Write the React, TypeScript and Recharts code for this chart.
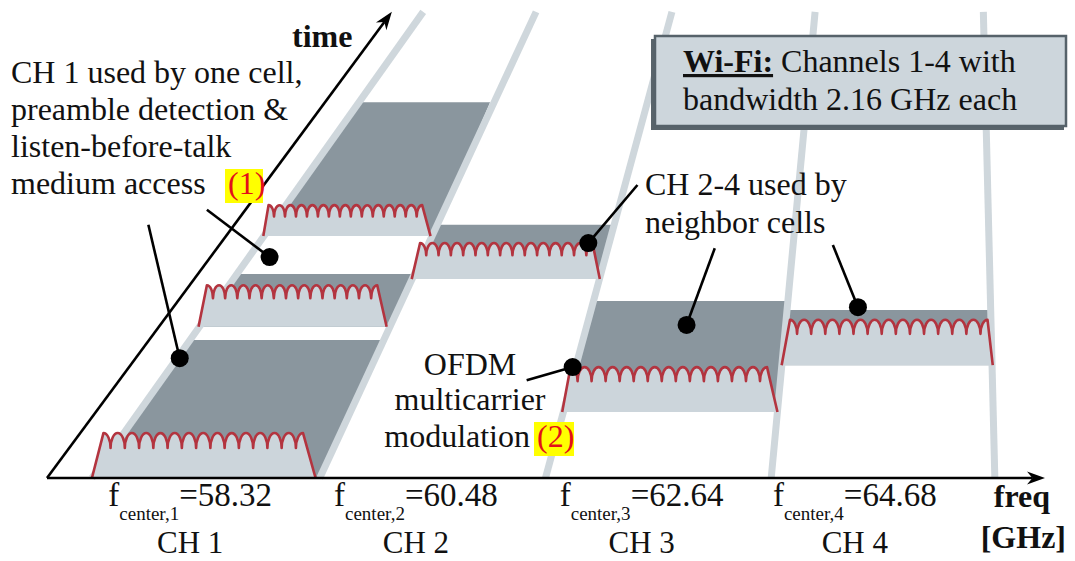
import { ComposedChart, Scatter, XAxis, YAxis } from 'recharts';

type Pt = { f: number; t: number };

// axes ranges (freq in GHz, time in arbitrary units)
const freqDomain: [number, number] = [56.95, 66.5];
const timeDomain: [number, number] = [0, 100];
const centerFreqs = [58.32, 60.48, 62.64, 64.68];
const channelNames = ['CH 1', 'CH 2', 'CH 3', 'CH 4'];

const freqAxis: Pt[] = [{ f: 56.95, t: 0 }, { f: 66.5, t: 0 }];
const timeAxis: Pt[] = [{ f: 56.95, t: 0 }, { f: 60.25, t: 99.6 }];

// channel lane borders
const laneLines: Pt[][] = [
  [{ f: 57.38, t: 0 }, { f: 60.55, t: 99.6 }],
  [{ f: 59.56, t: 0 }, { f: 61.63, t: 99.6 }],
  [{ f: 61.72, t: 0 }, { f: 62.93, t: 99.6 }],
  [{ f: 63.88, t: 0 }, { f: 64.3, t: 99.6 }],
  [{ f: 66.02, t: 0 }, { f: 65.91, t: 99.6 }],
];

// occupied channel time (dark areas): bottom-left, bottom-right, top-right, top-left
const busyAreas: Pt[][] = [
  [{ f: 57.38, t: 0 }, { f: 59.56, t: 0 }, { f: 60.18, t: 29.5 }, { f: 58.32, t: 29.5 }],
  [{ f: 58.41, t: 32.3 }, { f: 60.23, t: 32.3 }, { f: 60.47, t: 43.6 }, { f: 58.77, t: 43.6 }],
  [{ f: 59.03, t: 51.7 }, { f: 60.64, t: 51.7 }, { f: 61.19, t: 80.3 }, { f: 59.95, t: 80.3 }],
  [{ f: 60.45, t: 42.5 }, { f: 62.24, t: 42.5 }, { f: 62.38, t: 54.1 }, { f: 60.69, t: 54.1 }],
  [{ f: 61.9, t: 14.1 }, { f: 63.94, t: 14.1 }, { f: 64.04, t: 37.8 }, { f: 62.18, t: 37.8 }],
  [{ f: 63.98, t: 24.1 }, { f: 65.99, t: 24.1 }, { f: 65.98, t: 35.9 }, { f: 64.03, t: 35.9 }],
];

// OFDM preambles: edges in GHz, start/peak time, dip depth, number of subcarrier dips
const blockBottomLeft = [57.38, 58.4, 59.02, 60.44, 61.88, 63.98];
const blockTopLeft = [57.49, 58.48, 59.07, 60.52, 61.96, 64.06];
const blockTopRight = [59.4, 60.11, 60.54, 62.17, 63.84, 65.95];
const blockBottomRight = [59.52, 60.2, 60.62, 62.24, 63.94, 66.0];
const blockStart = [0, 32.3, 51.7, 42.5, 14.1, 24.1];
const blockPeak = [9.6, 41.2, 58.3, 50.2, 23.7, 33.8];
const blockDip = [3.2, 2.8, 2.4, 2.6, 3.0, 3.0];
const blockCarriers = [14, 14, 14, 14, 14, 14];

// annotation pointers: text end -> marker
const pointers: Pt[][] = [
  [{ f: 57.92, t: 54.1 }, { f: 58.22, t: 25.6 }],
  [{ f: 58.48, t: 57.3 }, { f: 59.08, t: 47.2 }],
  [{ f: 62.6, t: 62.6 }, { f: 62.13, t: 50.2 }],
  [{ f: 63.34, t: 49.1 }, { f: 63.07, t: 32.7 }],
  [{ f: 64.47, t: 49.8 }, { f: 64.71, t: 36.5 }],
  [{ f: 61.54, t: 20.9 }, { f: 61.98, t: 23.7 }],
];

const SERIF = "'Liberation Serif', 'DejaVu Serif', serif";
const DARK = '#8a969e';
const LIGHT = '#ccd5db';
const LANE = '#cfd7dc';
const RED = '#b3343f';

const noDot = () => null;

const polygon = (fill: string) => (p: any) => (
  <path d={'M' + p.points.map((q: any) => `${q.x},${q.y}`).join('L') + 'Z'} fill={fill} stroke="none" />
);

const thickLine = (stroke: string, width: number) => (p: any) => {
  const [a, b] = p.points;
  return <line x1={a.x} y1={a.y} x2={b.x} y2={b.y} stroke={stroke} strokeWidth={width} />;
};

const arrowLine = (p: any) => {
  const [a, b] = p.points;
  const len = Math.hypot(b.x - a.x, b.y - a.y);
  const ux = (b.x - a.x) / len;
  const uy = (b.y - a.y) / len;
  const L = 18;
  const W = 6.5;
  const bx = b.x - ux * L;
  const by = b.y - uy * L;
  const nx = b.x - ux * L * 0.7;
  const ny = b.y - uy * L * 0.7;
  return (
    <g>
      <line x1={a.x} y1={a.y} x2={nx} y2={ny} stroke="#000" strokeWidth={2.6} />
      <path
        d={`M${b.x},${b.y}L${bx - uy * W},${by + ux * W}L${nx},${ny}L${bx + uy * W},${by - ux * W}Z`}
        fill="#000"
      />
    </g>
  );
};

const pointerLine = (p: any) => {
  const [a, b] = p.points;
  return (
    <g>
      <line x1={a.x} y1={a.y} x2={b.x} y2={b.y} stroke="#000" strokeWidth={2.6} />
      <circle cx={b.x} cy={b.y} r={9} fill="#000" />
    </g>
  );
};

const ofdmBlock = (n: number) => (p: any) => {
  const [bl, tl, tr, br, dip] = p.points;
  const w = (tr.x - tl.x) / n;
  const h = dip.y - tl.y;
  const rx = w / 2;
  let wave = `A${rx},${h} 0 0 1 ${tl.x + w / 2},${dip.y}`;
  for (let k = 1; k < n; k++) wave += ` A${rx},${h} 0 0 1 ${tl.x + w / 2 + k * w},${dip.y}`;
  wave += ` A${rx},${h} 0 0 1 ${tr.x},${tr.y}`;
  const outline = `M${bl.x},${bl.y} L${tl.x},${tl.y} ${wave} L${br.x},${br.y}`;
  return (
    <g>
      <path d={outline + ' Z'} fill={LIGHT} stroke="none" />
      <path d={outline} fill="none" stroke={RED} strokeWidth={2.6} strokeLinejoin="round" />
    </g>
  );
};

const FreqTick = (props: any) => {
  const { x, y, payload, index } = props;
  return (
    <g fontFamily={SERIF} fill="#111">
      <text x={x} y={y + 28} textAnchor="middle" fontSize={33}>
        <tspan>f</tspan>
        <tspan dy={14} fontSize={19}>{`center,${index + 1}`}</tspan>
        <tspan dy={-14}>{`=${payload.value.toFixed(2)}`}</tspan>
      </text>
      <text x={x} y={y + 75} textAnchor="middle" fontSize={31}>
        {channelNames[index]}
      </text>
    </g>
  );
};

const Notes = () => (
  <svg
    width={1075}
    height={561}
    style={{ position: 'absolute', left: 0, top: 0, pointerEvents: 'none' }}
    fontFamily={SERIF}
    fill="#111"
    fontSize={32}
  >
    <text x={292} y={47} fontWeight="bold">time</text>

    <text x={11} y={83}>CH 1 used by one cell,</text>
    <text x={11} y={120}>preamble detection &amp;</text>
    <text x={11} y={157}>listen-before-talk</text>
    <text x={11} y={194}>medium access</text>
    <rect x={225} y={169} width={38} height={34} fill="#ffff00" />
    <text x={228} y={194} fill="#e3101a">(1)</text>

    <rect x={651} y={39} width={413} height={91} fill="#59646b" />
    <rect x={655} y={36} width={411} height={90} fill="#cdd6dc" stroke="#56626a" strokeWidth={2.5} />
    <text x={683} y={72}>
      <tspan fontWeight="bold" textDecoration="underline">Wi-Fi:</tspan> Channels 1-4 with
    </text>
    <text x={683} y={110}>bandwidth 2.16 GHz each</text>

    <text x={645} y={195}>CH 2-4 used by</text>
    <text x={645} y={233}>neighbor cells</text>

    <text x={470} y={375} textAnchor="middle">OFDM</text>
    <text x={470} y={410} textAnchor="middle">multicarrier</text>
    <text x={530} y={447} textAnchor="end">modulation</text>
    <rect x={534} y={422} width={40} height={34} fill="#ffff00" />
    <text x={537} y={447} fill="#e3101a">(2)</text>

    <text x={1050} y={507} textAnchor="end" fontWeight="bold">freq</text>
    <text x={1066} y={548} textAnchor="end" fontWeight="bold">[GHz]</text>
  </svg>
);

export default function App() {
  return (
    <div style={{ position: 'absolute', left: 0, top: 0, width: 1075, height: 561, background: '#fff' }}>
      <ComposedChart width={1075} height={561} margin={{ top: 10, right: 30, bottom: 0, left: 47 }}>
        <XAxis
          type="number"
          dataKey="f"
          domain={freqDomain}
          ticks={centerFreqs}
          interval={0}
          height={83}
          tickSize={0}
          tickMargin={0}
          axisLine={false}
          tickLine={false}
          tick={<FreqTick />}
        />
        <YAxis type="number" dataKey="t" domain={timeDomain} hide />

        {busyAreas.map((d, i) => (
          <Scatter key={`busy${i}`} data={d} line={polygon(DARK)} shape={noDot} isAnimationActive={false} />
        ))}
        {laneLines.map((d, i) => (
          <Scatter key={`lane${i}`} data={d} line={thickLine(LANE, 7)} shape={noDot} isAnimationActive={false} />
        ))}
        {blockBottomLeft.map((_, i) => (
          <Scatter
            key={`blk${i}`}
            data={[
              { f: blockBottomLeft[i], t: blockStart[i] },
              { f: blockTopLeft[i], t: blockPeak[i] },
              { f: blockTopRight[i], t: blockPeak[i] },
              { f: blockBottomRight[i], t: blockStart[i] },
              { f: blockTopLeft[i], t: blockPeak[i] - blockDip[i] },
            ]}
            line={ofdmBlock(blockCarriers[i])}
            shape={noDot}
            isAnimationActive={false}
          />
        ))}
        <Scatter data={timeAxis} line={arrowLine} shape={noDot} isAnimationActive={false} />
        {pointers.map((d, i) => (
          <Scatter key={`ptr${i}`} data={d} line={pointerLine} shape={noDot} isAnimationActive={false} />
        ))}
        <Scatter data={freqAxis} line={arrowLine} shape={noDot} isAnimationActive={false} />
      </ComposedChart>
      <Notes />
    </div>
  );
}
